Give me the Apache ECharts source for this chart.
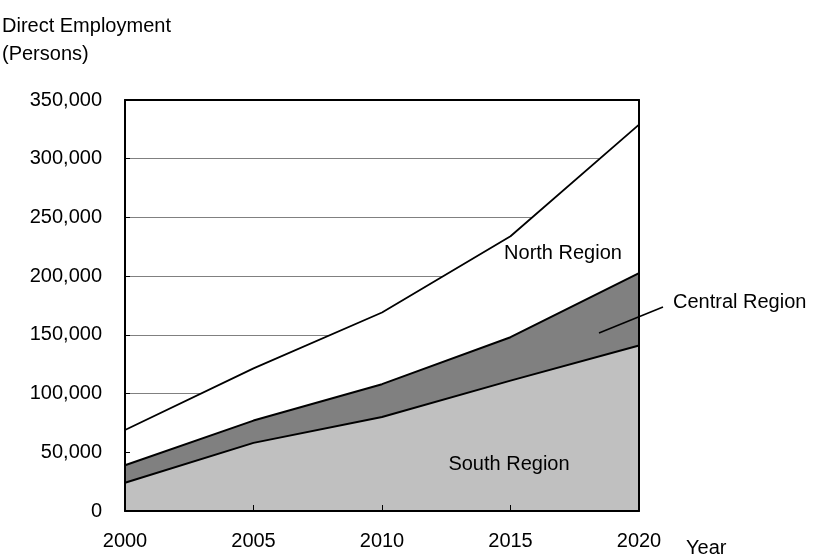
<!DOCTYPE html>
<html>
<head>
<meta charset="utf-8">
<script src="https://cdn.jsdelivr.net/npm/echarts@6/dist/echarts.min.js"></script>
<style>
  html, body { margin: 0; padding: 0; background: #fff; }
  #chart { width: 814px; height: 556px; }
</style>
</head>
<body>
<div id="chart"></div>
<script>
// Years on the horizontal axis
const years = ['2000', '2005', '2010', '2015', '2020'];
// Direct employment by region (persons); stacked South -> Central -> North
const southRegion = [24000, 58000, 80000, 111000, 141000];
const centralRegion = [15000, 19000, 28000, 37000, 61500];
const northRegion = [30000, 44500, 61000, 86000, 126500];
// Vertical axis range and tick spacing
const yTicks = { min: 0, max: 350000, step: 50000 };

const FONT = '"Liberation Sans", Arial, sans-serif';
const FS = 20;

function thousands(v) {
  return String(v).replace(/\B(?=(\d{3})+(?!\d))/g, ',');
}

const chart = echarts.init(document.getElementById('chart'), null, { renderer: 'canvas' });

function areaSeries(name, vals, fill, lineWidth) {
  return {
    name: name,
    type: 'line',
    stack: 'employment',
    xAxisIndex: 0,
    yAxisIndex: 0,
    data: vals,
    symbol: 'none',
    showSymbol: false,
    smooth: false,
    lineStyle: { color: '#000', width: lineWidth, join: 'round' },
    areaStyle: { color: fill, opacity: 1 },
    emphasis: { disabled: true }
  };
}

// Frame-only axis (top / right edges of the plot box)
function frameAxis(kind, position) {
  const a = {
    position: position,
    z: 10,
    axisLine: { show: true, onZero: false, lineStyle: { color: '#000', width: 2 } },
    axisTick: { show: false }, axisLabel: { show: false }, splitLine: { show: false }
  };
  if (kind === 'x') {
    a.type = 'category'; a.data = years; a.boundaryGap = false;
  } else {
    a.type = 'value'; a.min = yTicks.min; a.max = yTicks.max; a.interval = yTicks.step;
  }
  return a;
}

chart.setOption({
  animation: false,
  backgroundColor: '#fff',
  textStyle: { fontFamily: FONT },
  grid: { left: 125, right: 175, top: 100, bottom: 45, containLabel: false },
  xAxis: [
    {
      type: 'category',
      data: years,
      boundaryGap: false,
      z: 10,
      axisLine: { show: true, onZero: false, lineStyle: { color: '#000', width: 2 } },
      axisTick: { show: true, inside: true, length: 6, lineStyle: { color: '#000', width: 1 } },
      axisLabel: { color: '#000', fontSize: FS, fontFamily: FONT, margin: 20 },
      splitLine: { show: false }
    },
    frameAxis('x', 'top')
  ],
  yAxis: [
    {
      type: 'value',
      min: yTicks.min, max: yTicks.max, interval: yTicks.step,
      z: 10,
      axisLine: { show: true, onZero: false, lineStyle: { color: '#000', width: 2 } },
      axisTick: { show: true, inside: true, length: 5, lineStyle: { color: '#000', width: 1 } },
      axisLabel: { color: '#000', fontSize: FS, fontFamily: FONT, margin: 23, formatter: thousands },
      splitLine: { show: false }
    },
    frameAxis('y', 'right'),
    {
      // horizontal gridlines, kept beneath the filled areas
      type: 'value', position: 'left',
      min: yTicks.min, max: yTicks.max, interval: yTicks.step,
      z: 0,
      axisLine: { show: false }, axisTick: { show: false }, axisLabel: { show: false },
      splitLine: { show: true, lineStyle: { color: '#808080', width: 1 } }
    }
  ],
  series: [
    areaSeries('South Region', southRegion, '#c0c0c0', 2),
    areaSeries('Central Region', centralRegion, '#808080', 2),
    areaSeries('North Region', northRegion, '#ffffff', 1.8)
  ],
  graphic: [
    {
      type: 'text', left: 2, top: 12,
      style: { text: 'Direct Employment\n(Persons)', fill: '#000', font: FS + 'px ' + FONT, lineHeight: 28 }
    },
    {
      type: 'text', x: 686, y: 548,
      style: { text: 'Year', fill: '#000', font: FS + 'px ' + FONT, textVerticalAlign: 'middle' }
    },
    {
      type: 'text', x: 563, y: 253, z: 20,
      style: { text: 'North Region', fill: '#000', font: FS + 'px ' + FONT, textAlign: 'center', textVerticalAlign: 'middle' }
    },
    {
      type: 'text', x: 509, y: 464, z: 20,
      style: { text: 'South Region', fill: '#000', font: FS + 'px ' + FONT, textAlign: 'center', textVerticalAlign: 'middle' }
    },
    {
      type: 'text', x: 673, y: 302, z: 20,
      style: { text: 'Central Region', fill: '#000', font: FS + 'px ' + FONT, textAlign: 'left', textVerticalAlign: 'middle' }
    },
    {
      type: 'line', z: 20,
      shape: { x1: 599, y1: 333, x2: 663, y2: 307 },
      style: { stroke: '#000', lineWidth: 1.5 }
    }
  ]
});
</script>
</body>
</html>
